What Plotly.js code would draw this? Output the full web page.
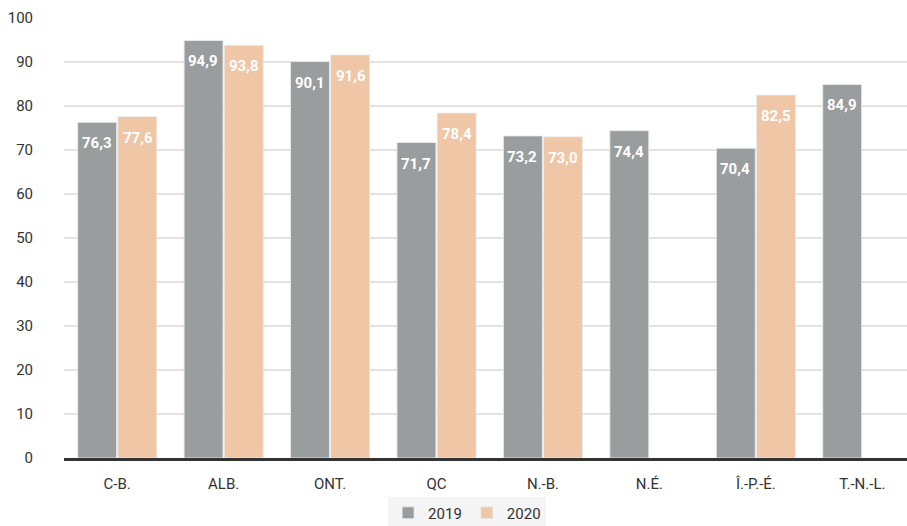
<!DOCTYPE html>
<html>
<head>
<meta charset="utf-8">
<script src="https://cdn.plot.ly/plotly-3.0.1.min.js"></script>
<style>html,body{margin:0;padding:0;background:#fff;}#chart{width:907px;height:526px;}</style>
</head>
<body>
<div id="chart"></div>
<script>
const categories = ["C-B.", "ALB.", "ONT.", "QC", "N.-B.", "N.É.", "Î.-P.-É.", "T.-N.-L."];
const values2019 = [76.3, 94.9, 90.1, 71.7, 73.2, 74.4, 70.4, 84.9];
const values2020 = [77.6, 93.8, 91.6, 78.4, 73.0, null, 82.5, null];
const seriesNames = ["2019", "2020"];
const yTicks = [0, 10, 20, 30, 40, 50, 60, 70, 80, 90, 100];

const colors = ["#9a9d9d", "#efc6a6"];
const fmt = v => v.toFixed(1).replace(".", ",");

const traces = [values2019, values2020].map((vals, i) => ({
  type: "bar",
  name: seriesNames[i],
  x: categories,
  y: vals,
  marker: {color: colors[i], line: {color: "rgba(235,235,235,0.9)", width: 1}},
  hoverinfo: "skip"
}));

const annotations = [];
[values2019, values2020].forEach((vals, i) => {
  vals.forEach((v, j) => {
    if (v === null) return;
    annotations.push({
      x: categories[j], y: v, xref: "x", yref: "y",
      text: fmt(v), showarrow: false,
      xshift: i === 0 ? -20.5 : 20.5, yshift: -21,
      yanchor: "middle", xanchor: "center",
      font: {family: "Roboto, sans-serif", size: 15, color: "#ffffff", weight: 700}
    });
  });
});

const layout = {
  width: 907, height: 526,
  margin: {l: 64, r: 0, t: 18, b: 68},
  paper_bgcolor: "#ffffff", plot_bgcolor: "#ffffff",
  barmode: "group", bargap: 0.245, bargroupgap: 0.03,
  font: {family: "Roboto, sans-serif", size: 15, color: "#333333"},
  xaxis: {
    type: "category", range: [-0.5, 7.42], automargin: false,
    showgrid: false, showline: true, linecolor: "#333333", linewidth: 3,
    ticks: "", ticklabelstandoff: 10,
    tickfont: {size: 15, color: "#333333"}
  },
  yaxis: {
    range: [0, 100], tickvals: yTicks, ticktext: yTicks.map(String), automargin: false,
    showgrid: true, gridcolor: "#e3e3e3", gridwidth: 1.5,
    zeroline: false, showline: false, ticks: "", ticklabelstandoff: 30,
    tickfont: {size: 15, color: "#333333"}
  },
  shapes: [{type: "line", xref: "paper", yref: "y", x0: 0, x1: 1, y0: 10, y1: 10,
            line: {color: "#9a9a9a", width: 1.5}, layer: "below"}],
  legend: {
    orientation: "h", xref: "container", x: 0.515, xanchor: "center",
    yref: "container", y: 0.056, yanchor: "top",
    bgcolor: "#f5f5f5", font: {size: 15, color: "#333333"},
    itemwidth: 30, traceorder: "normal", tracegroupgap: 0
  },
  annotations: annotations,
  showlegend: true
};

Plotly.newPlot("chart", traces, layout, {displayModeBar: false, staticPlot: true});
</script>
</body>
</html>
